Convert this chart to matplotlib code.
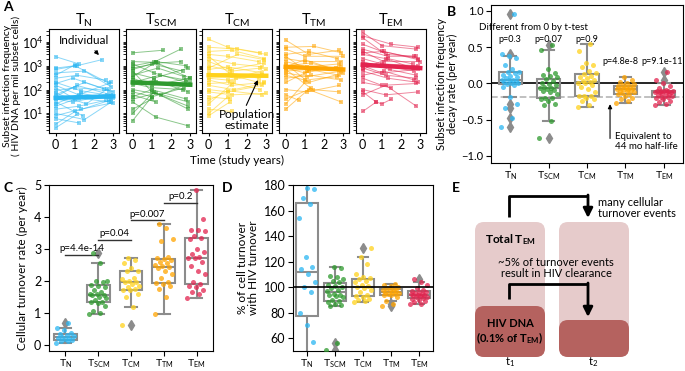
import numpy as np
import matplotlib
matplotlib.use('Agg')
import matplotlib.pyplot as plt
from matplotlib.patches import FancyBboxPatch

plt.rcParams['font.family'] = ['Lato', 'DejaVu Sans']
plt.rcParams['mathtext.default'] = 'regular'
plt.rcParams['axes.linewidth'] = 0.8
plt.rcParams['xtick.labelsize'] = 8
plt.rcParams['ytick.labelsize'] = 8
plt.rcParams['xtick.major.pad'] = 2
plt.rcParams['ytick.major.pad'] = 2

# subsets and colours
subsets = ['N', 'SCM', 'CM', 'TM', 'EM']
labels = [r'T$_{%s}$' % s for s in subsets]
colors = ['#2bb6f2', '#2e9a2e', '#ffd21c', '#ffa400', '#e2244f']
GREY = '#8c8c8c'

# Panel A: individual trajectories (years, HIV DNA per mil subset cells)
tn_times = [[0, 1.1, 2.4], [0, 1.2], [0, 1, 2.8], [0, 1.5, 2.9], [0, 1.1, 2.6], [0, 1.2, 2.9],
            [0, 1.0, 2.8], [0, 1.5, 3.0], [0, 0.9, 2.7], [0, 1.3, 2.9], [0, 1.2, 2.6], [0, 1.5, 2.9],
            [0, 1.2], [0, 1.0, 2.8], [0, 1.1], [0, 1.3, 2.9], [0, 1.0, 3.0], [0, 1.6, 2.7],
            [0, 1.1, 2.9], [0, 1.4], [0, 1.2, 2.8], [0, 1.0], [0, 1.3, 3.0], [0, 0.9, 2.5]]
tn_freq = [[700, 1000, 1800], [2400, 1200], [800, 1000, 180], [500, 600, 130], [300, 400, 250],
           [150, 60, 200], [90, 120, 90], [60, 200, 80], [40, 30, 60], [25, 70, 40], [15, 20, 35],
           [10, 5.5, 30], [6, 4], [3.5, 12, 35], [2.5, 9], [200, 90, 55], [120, 40, 45],
           [70, 25, 110], [50, 150, 60], [30, 8], [20, 45, 30], [400, 1100], [8, 15, 28],
           [180, 300, 110]]

tscm_times = [[0, 1.6], [0, 1.1, 2.5], [0, 1.2, 2.8], [0, 1.0, 2.6], [0, 1.1, 2.9], [0, 1.3, 2.7],
              [0, 1.0, 3.0], [0, 1.2, 2.9], [0, 1.4, 2.8], [0, 1.0, 2.6], [0, 1.1, 2.9], [0, 1.5, 3.0],
              [0, 1.0, 2.7], [0, 1.2], [0, 1.0, 2.8], [0, 1.2, 2.9], [0, 1.2, 2.9], [0, 1.0],
              [0, 1.1, 2.9], [0, 1.0], [0, 1.3, 2.5], [0, 1.1, 2.8], [0, 1.2, 3.0], [0, 1.0, 2.9]]
tscm_freq = [[3500, 4500], [1500, 1400, 5000], [1000, 1500, 1000], [700, 1200, 600], [500, 300, 800],
             [400, 800, 350], [300, 150, 300], [250, 200, 150], [200, 400, 250], [180, 120, 100],
             [150, 250, 80], [100, 60, 200], [80, 50, 120], [60, 30], [50, 100, 40], [40, 70, 20],
             [30, 7, 3], [15, 40], [10, 80, 15], [5, 50], [800, 1300, 1500], [1200, 500, 200],
             [350, 1400, 300], [600, 80, 30]]

tcm_times = [[0, 1.0, 2.7], [0, 1.5, 3.0], [0, 1.2, 2.9], [0, 1.0, 2.6], [0, 1.3, 2.8], [0, 1.1, 2.9],
             [0, 1.2, 2.7], [0, 1.0, 2.8], [0, 1.4, 3.0], [0, 1.1, 2.6], [0, 1.0, 2.8], [0, 1.2, 2.9],
             [0, 1.1, 2.7], [0, 1.3, 2.9], [0, 1.0, 2.8], [0, 1.2, 3.0], [0, 1.1], [0, 1.0, 2.8],
             [0, 1.3], [0, 1.2], [0, 1.0], [0, 1.1], [0, 1.5, 2.9], [0, 1.2, 2.6]]
tcm_freq = [[13000, 6000, 3500], [6000, 5000, 3000], [4000, 4500, 2000], [3000, 2500, 1500],
            [2000, 1200, 900], [1500, 700, 1300], [1000, 600, 800], [700, 900, 500], [500, 300, 700],
            [400, 500, 300], [300, 250, 400], [250, 150, 200], [180, 200, 100], [150, 100, 180],
            [100, 80, 150], [80, 60, 70], [50, 40], [35, 90, 60], [25, 200], [15, 12], [10, 50],
            [8, 30], [800, 3000, 1800], [2500, 400, 200]]

ttm_times = [[0, 1.2, 2.8], [0, 1.5, 2.9], [0, 1.0, 3.0], [0, 1.2, 2.7], [0, 1.0, 2.9], [0, 1.1, 2.8],
             [0, 1.3, 2.6], [0, 1.0, 2.9], [0, 1.2, 2.8], [0, 1.1, 2.9], [0, 1.0, 2.7], [0, 1.3, 2.9],
             [0, 1.2], [0, 1.1, 2.8], [0, 0.7], [0, 1.2, 2.9], [0, 1.0], [0, 1.3], [0, 1.1, 2.6],
             [0, 1.4, 2.8], [0, 1.0, 2.8], [0, 1.2, 3.0]]
ttm_freq = [[12000, 3000, 4500], [6000, 6500, 3500], [5000, 2500, 2500], [3000, 4000, 2000],
            [2000, 1500, 1500], [1500, 900, 1200], [1000, 1300, 700], [800, 500, 1000],
            [600, 700, 400], [500, 350, 600], [400, 250, 350], [300, 400, 250], [200, 600],
            [100, 80, 150], [60, 35], [40, 100, 30], [25, 200], [15, 120], [2500, 600, 800],
            [700, 100, 80], [900, 1800, 600], [1200, 200, 500]]

tem_times = [[0, 1.0, 2.8], [0, 1.5, 2.9], [0, 1.2, 2.7], [0, 1.0, 2.9], [0, 1.3, 2.8], [0, 1.1, 3.0],
             [0, 1.2, 2.6], [0, 1.0, 2.9], [0, 1.4, 2.8], [0, 1.1, 2.7], [0, 1.0, 2.9], [0, 1.2, 2.8],
             [0, 1.3, 2.9], [0, 1.1, 2.7], [0, 1.0, 2.8], [0, 1.5], [0, 1.2, 2.9], [0, 0.7, 1.0, 1.5],
             [0, 1.2, 2.8], [0, 0.7], [0, 1.1, 2.9], [0, 1.3, 2.6]]
tem_freq = [[25000, 7000, 5000], [18000, 8000, 6000], [15000, 3000, 2500], [8000, 4000, 2000],
            [5000, 2500, 2500], [4000, 1500, 1500], [3000, 2000, 800], [2000, 1200, 1000],
            [1500, 700, 400], [1200, 1000, 600], [1000, 500, 700], [800, 400, 300], [600, 300, 200],
            [400, 600, 250], [300, 150, 180], [200, 120], [100, 60, 80], [80, 30, 25, 40],
            [60, 150, 20], [12, 30], [3500, 4000, 1800], [700, 2000, 1200]]

pop_times = [0, 3]
pop_freq = [[45, 52], [200, 160], [400, 380], [900, 700], [1100, 800]]

# Panel B: decay rates (per year)
decay_tn = [-0.6, -0.48, -0.345, -0.29, -0.19, -0.05, -0.02, -0.01, 0.0, 0.01, 0.02, 0.03, 0.04, 0.045,
            0.05, 0.07, 0.09, 0.1, 0.12, 0.14, 0.15, 0.16, 0.2, 0.25, 0.35, 0.38, 0.41, 0.95]
decay_tscm = [-0.76, -0.515, -0.3, -0.28, -0.25, -0.22, -0.21, -0.2, -0.15, -0.12, -0.1, -0.09, -0.08,
              -0.07, -0.065, -0.05, -0.03, -0.01, 0.0, 0.03, 0.06, 0.08, 0.1, 0.12, 0.14, 0.2, 0.46, 0.53]
decay_tcm = [-0.33, -0.3, -0.25, -0.22, -0.2, -0.18, -0.175, -0.17, -0.12, -0.08, -0.05, -0.02, 0.0, 0.01,
             0.015, 0.03, 0.05, 0.07, 0.09, 0.1, 0.13, 0.14, 0.17, 0.22, 0.25, 0.28, 0.45, 0.54]
decay_ttm = [-0.276, -0.25, -0.22, -0.2, -0.17, -0.15, -0.147, -0.13, -0.12, -0.11, -0.1, -0.09, -0.085,
             -0.08, -0.075, -0.07, -0.06, -0.05, -0.04, -0.037, -0.03, -0.01, 0.0, 0.02, 0.05, 0.083]
decay_tem = [-0.3, -0.28, -0.26, -0.24, -0.22, -0.2, -0.195, -0.19, -0.18, -0.17, -0.16, -0.15, -0.14,
             -0.125, -0.12, -0.115, -0.115, -0.11, -0.11, -0.105, -0.105, -0.1, -0.09, -0.07, -0.04,
             0.0, 0.045, 0.16]
decay_p = ['p=0.3', 'p=0.07', 'p=0.9', 'p=4.8e-8', 'p=9.1e-11']
half_life_months = 44

# Panel C: cellular turnover rate (per year)
turn_tn = [0.05, 0.1, 0.12, 0.15, 0.17, 0.2, 0.22, 0.25, 0.27, 0.3, 0.33, 0.35, 0.45, 0.52, 0.68]
turn_tscm = [0.95, 1.0, 1.05, 1.2, 1.3, 1.33, 1.35, 1.4, 1.45, 1.5, 1.55, 1.56, 1.57, 1.6, 1.65, 1.7,
             1.8, 1.85, 1.87, 1.95, 2.0, 2.0, 2.55, 2.86]
turn_tcm = [0.6, 1.19, 1.5, 1.6, 1.7, 1.72, 1.75, 1.8, 1.85, 1.9, 1.95, 1.96, 2.0, 2.05, 2.1, 2.3, 2.31,
            2.4, 2.55, 2.65, 2.72]
turn_ttm = [0.97, 1.5, 1.75, 1.85, 1.9, 1.93, 1.95, 2.1, 2.2, 2.3, 2.4, 2.44, 2.45, 2.5, 2.55, 2.6,
            2.65, 2.69, 2.7, 2.75, 3.25, 3.3, 3.65, 3.78]
turn_tem = [1.46, 1.6, 1.65, 1.7, 1.8, 1.85, 1.9, 1.95, 2.2, 2.3, 2.45, 2.6, 2.7, 2.7, 2.75, 2.85, 2.9,
            3.0, 3.3, 3.35, 3.4, 3.55, 3.6, 3.6, 3.95, 4.84]
turn_p = ['p=4.4e-14', 'p=0.04', 'p=0.007', 'p=0.2']
turn_p_y = [2.82, 3.28, 3.9, 4.45]

# Panel D: % of cell turnover with HIV turnover
hiv_tn = [25, 35, 45, 57, 70, 80, 96, 100, 104, 110, 114, 116, 124, 154, 165, 170, 177, 178, 190, 200]
hiv_tscm = [51, 56, 85, 86, 87, 88, 89, 90, 92, 93, 94, 94, 95, 97, 98, 99, 100, 101, 102, 104, 105,
            106, 108, 109, 115, 116]
hiv_tcm = [88, 89, 90, 91, 92, 93, 94, 96, 98, 99, 100, 101, 102, 104, 105, 106, 107, 108, 110, 118,
           124, 131]
hiv_ttm = [85.5, 87, 89, 92.5, 93.5, 94, 94.5, 95, 95.5, 96, 96.5, 97, 97.5, 98, 98.2, 99, 100, 101,
           102, 102.5]
hiv_tem = [86.5, 87, 88, 89, 90, 91, 91.5, 92, 92.5, 93, 93.5, 93.7, 94, 94.5, 95, 95.5, 96, 96.5, 97,
           98, 99, 101.5, 104, 106]

W, H = 685, 371


def px(l, t, r, b):
    return [l / W, 1 - b / H, (r - l) / W, (b - t) / H]


def box_strip(ax, groups, width):
    ax.boxplot(groups, positions=range(len(groups)), widths=width, patch_artist=True,
               boxprops=dict(facecolor='none', edgecolor=GREY, lw=1.5),
               whiskerprops=dict(color=GREY, lw=1.5), capprops=dict(color=GREY, lw=1.5),
               medianprops=dict(color=GREY, lw=1.5),
               flierprops=dict(marker='d', markerfacecolor=GREY, markeredgecolor=GREY, markersize=5))
    for i, g in enumerate(groups):
        jit = ((np.arange(len(g)) * 0.618034) % 1 - 0.5) * width * 0.8
        ax.scatter(i + jit, g, s=13, color=colors[i], alpha=0.75, lw=0, zorder=3)
    ax.set_xticks(range(len(groups)))
    ax.set_xticklabels(labels)
    ax.set_xlim(-0.5, len(groups) - 0.5)
    ax.tick_params(axis='x', labelsize=7.5, pad=1.5)


fig = plt.figure(figsize=(6.85, 3.71), dpi=100)

# ---- Panel A
a_times = [tn_times, tscm_times, tcm_times, ttm_times, tem_times]
a_freq = [tn_freq, tscm_freq, tcm_freq, ttm_freq, tem_freq]
a_left = [49, 126, 202, 279, 356]
a_axes = []
for i in range(5):
    ax = fig.add_axes(px(a_left[i], 29, a_left[i] + 70, 133))
    for t, v in zip(a_times[i], a_freq[i]):
        ax.plot(t, v, '-s', color=colors[i], alpha=0.55, lw=0.7, ms=2.2, mew=0)
    ax.plot(pop_times, pop_freq[i], '-', color=colors[i], lw=3.2)
    ax.set_yscale('log')
    ax.set_ylim(1.5, 3.5e4)
    ax.set_xlim(-0.35, 3.3)
    ax.set_xticks([0, 1, 2, 3])
    ax.set_yticks([10, 100, 1000, 10000])
    ax.tick_params(axis='y', which='both', length=2, width=0.6)
    ax.tick_params(axis='x', length=2.5, labelsize=9)
    ax.set_title(labels[i], fontsize=10.5, pad=3)
    if i > 0:
        ax.tick_params(axis='y', which='both', labelleft=False)
    else:
        ax.tick_params(axis='y', labelsize=9)
    a_axes.append(ax)

a_axes[0].text(1.5, 1.1e4, 'Individual', ha='center', va='center', fontsize=8.5)
a_axes[0].annotate('', xy=(2.35, 2300), xytext=(1.95, 5200),
                   arrowprops=dict(arrowstyle='-|>', color='k', lw=0.8, mutation_scale=6))
a_axes[2].text(2.0, 5.5, 'Population\nestimate', ha='center', va='center', fontsize=8.5,
               linespacing=1.0)
a_axes[2].annotate('', xy=(2.62, 320), xytext=(1.9, 17),
                   arrowprops=dict(arrowstyle='-|>', color='k', lw=0.8, mutation_scale=6))
fig.text(237 / W, 1 - 160 / H, 'Time (study years)', ha='center', va='center', fontsize=8.5)
fig.text(12 / W, 1 - 86 / H, 'Subset infection frequency\n( HIV DNA per mil subset cells)',
         rotation=90, ha='center', va='center', fontsize=7.5, linespacing=1.0)

# ---- Panel B
axb = fig.add_axes(px(491, 5, 683, 163))
box_strip(axb, [decay_tn, decay_tscm, decay_tcm, decay_ttm, decay_tem], 0.6)
axb.axhline(0, color='k', lw=1.2, zorder=1)
axb.axhline(-np.log(2) / (half_life_months / 12), color='#bbbbbb', lw=1.3, ls='--', zorder=1)
axb.set_ylim(-1.1, 1.08)
axb.set_yticks([-1.0, -0.5, 0.0, 0.5, 1.0])
axb.set_ylabel('Subset infection frequency\ndecay rate (per year)', fontsize=8, labelpad=2,
               linespacing=1.0)
axb.text(0.6, 0.77, 'Different from 0 by t-test', ha='center', va='center', fontsize=7)
p_x = [0, 1, 2, 2.88, 3.95]
for i, p in enumerate(decay_p):
    axb.text(p_x[i], 0.61 if i < 3 else 0.3, p, ha='center', va='center', fontsize=6.5)
axb.annotate('', xy=(2.6, -0.25), xytext=(2.6, -0.8),
             arrowprops=dict(arrowstyle='-|>', color='k', lw=0.8, mutation_scale=6))
axb.text(2.72, -0.8, 'Equivalent to\n44 mo half-life', ha='left', va='center', fontsize=7,
         linespacing=1.1)

# ---- Panel C
axc = fig.add_axes(px(49, 185, 213, 351))
box_strip(axc, [turn_tn, turn_tscm, turn_tcm, turn_ttm, turn_tem], 0.7)
axc.set_ylim(-0.2, 5.0)
axc.set_yticks([0, 1, 2, 3, 4, 5])
axc.tick_params(axis='y', labelsize=9)
axc.set_ylabel('Cellular turnover rate (per year)', fontsize=8.5, labelpad=4)
for i, (p, y) in enumerate(zip(turn_p, turn_p_y)):
    axc.plot([i, i + 1], [y, y], color='#333333', lw=1)
    axc.text(i + 0.5, y + 0.05, p, ha='center', va='bottom', fontsize=7)

# ---- Panel D
axd = fig.add_axes(px(293, 185, 433, 351))
box_strip(axd, [hiv_tn, hiv_tscm, hiv_tcm, hiv_ttm, hiv_tem], 0.78)
axd.axhline(100, color='k', lw=1.2, zorder=4)
axd.set_ylim(50, 180)
axd.set_yticks([60, 80, 100, 120, 140, 160, 180])
axd.tick_params(axis='y', labelsize=9)
axd.set_ylabel('% of cell turnover\nwith HIV turnover', fontsize=8.5, labelpad=3, linespacing=1.05)

# ---- Panel E (schematic, local pixel coordinates)
axe = fig.add_axes(px(450, 180, 685, 371))
axe.set_xlim(0, 235)
axe.set_ylim(191, 0)
axe.axis('off')
light, dark = '#e6cbcb', '#b5625f'
for x0, y0, h, c in [(25, 42, 135, light), (109, 42, 135, light),
                     (25, 126, 51, dark), (109, 140, 37, dark)]:
    axe.add_patch(FancyBboxPatch((x0, y0), 70, h, boxstyle='round,pad=0,rounding_size=9',
                                 fc=c, ec='none'))
axe.text(60, 60, r'Total T$_{EM}$', ha='center', va='center', fontsize=8.5, fontweight='bold')
axe.text(60, 152, 'HIV DNA\n' + r'(0.1% of T$_{EM}$)', ha='center', va='center', fontsize=8,
         fontweight='bold', linespacing=1.2)
axe.text(106, 88, '~5% of turnover events\nresult in HIV clearance', ha='center', va='center',
         fontsize=8, linespacing=1.1)
axe.text(148, 28, 'many cellular\nturnover events', ha='left', va='center', fontsize=8,
         linespacing=1.1)
axe.text(60, 182, r't$_1$', ha='center', va='center', fontsize=8)
axe.text(143, 182, r't$_2$', ha='center', va='center', fontsize=8)
for y_top, y_start, y_end in [(16, 37, 38), (104, 119, 137)]:
    axe.plot([59, 59, 138], [y_start, y_top, y_top], color='k', lw=2, solid_capstyle='butt')
    axe.annotate('', xy=(138, y_end), xytext=(138, y_top - 1),
                 arrowprops=dict(arrowstyle='-|>', color='k', lw=2, mutation_scale=14,
                                 shrinkA=0, shrinkB=0))

# panel letters
for lab, x, y in [('A', 3, 7), ('B', 447, 12), ('C', 4, 188), ('D', 222, 188), ('E', 452, 188)]:
    fig.text(x / W, 1 - y / H, lab, fontsize=10, fontweight='bold', ha='left', va='center')

fig.savefig('out.png', dpi=100)
